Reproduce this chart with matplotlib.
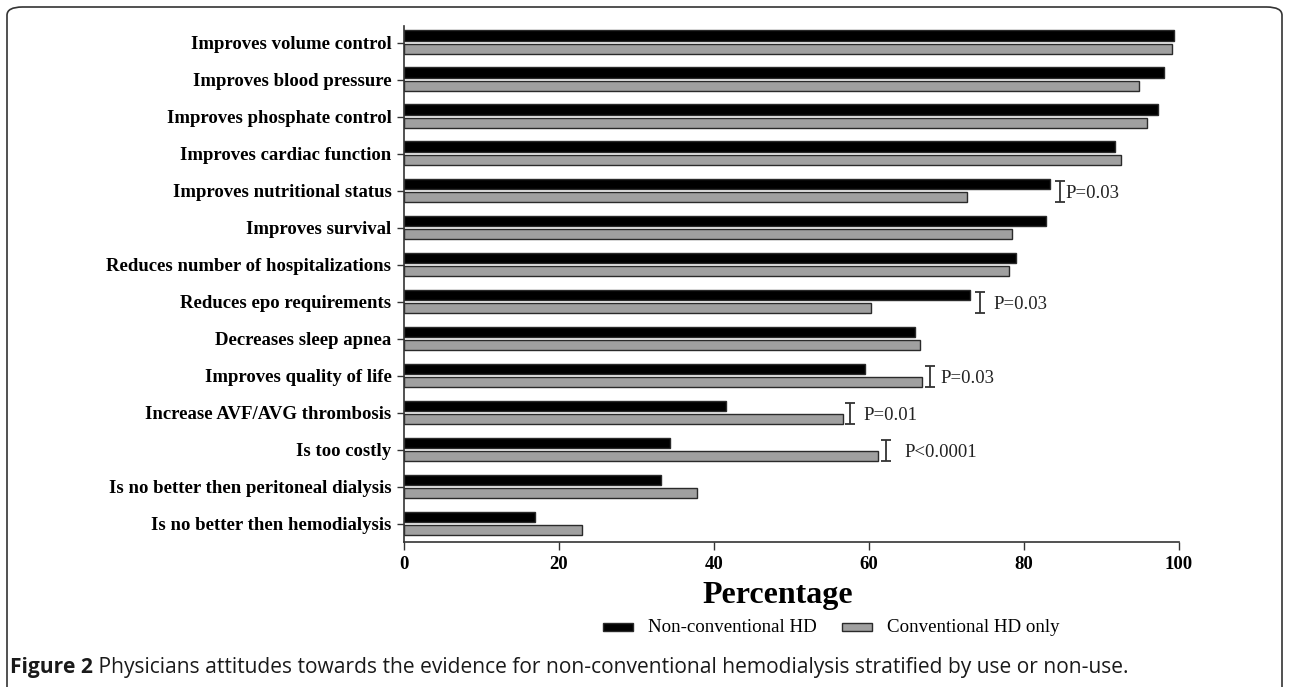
import matplotlib
matplotlib.use("Agg")
import matplotlib.pyplot as plt
import numpy as np
from matplotlib.patches import FancyBboxPatch, Rectangle

categories = [
    "Improves volume control",
    "Improves blood pressure",
    "Improves phosphate control",
    "Improves cardiac function",
    "Improves nutritional status",
    "Improves survival",
    "Reduces number of hospitalizations",
    "Reduces epo requirements",
    "Decreases sleep apnea",
    "Improves quality of life",
    "Increase AVF/AVG thrombosis",
    "Is too costly",
    "Is no better then peritoneal dialysis",
    "Is no better then hemodialysis",
]
non_conventional = [99.4, 98.0, 97.3, 91.7, 83.3, 82.9, 79.0, 73.0, 65.9, 59.5, 41.5, 34.3, 33.1, 16.9]
conventional_only = [99.1, 94.9, 95.9, 92.5, 72.6, 78.4, 78.0, 60.2, 66.6, 66.8, 56.6, 61.2, 37.8, 23.0]
series_names = ["Non-conventional HD", "Conventional HD only"]

# significance annotations: category index, label
sig_rows = [4, 7, 9, 10, 11]
sig_labels = ["P=0.03", "P=0.03", "P=0.03", "P=0.01", "P<0.0001"]
sig_bracket_x = [84.6, 74.3, 67.9, 57.6, 62.2]
sig_text_x = [85.4, 76.1, 69.2, 59.3, 64.6]

xticks = [0, 20, 40, 60, 80, 100]
caption_bold = "Figure 2"
caption_rest = " Physicians attitudes towards the evidence for non-conventional hemodialysis stratified by use or non-use."

W, H = 1289, 687
fig = plt.figure(figsize=(W / 100, H / 100), dpi=100)
serif = ["Liberation Serif", "DejaVu Serif"]

ax_l, ax_r, ax_t, ax_b = 404, 1179, 26, 542
ax = fig.add_axes([ax_l / W, 1 - ax_b / H, (ax_r - ax_l) / W, (ax_b - ax_t) / H])

y = np.arange(len(categories))
bh = 0.28
edge = "#2a2a2a"
ax.barh(y - 0.19, non_conventional, height=bh, color="black", edgecolor=edge, linewidth=1.0)
ax.barh(y + 0.17, conventional_only, height=bh, color="#a0a0a0", edgecolor=edge, linewidth=1.0)

ax.set_xlim(0, 100)
ax.set_ylim(13.49, -0.45)
ax.set_yticks(y)
ax.set_yticklabels(categories, fontfamily=serif, fontweight="bold", fontsize=13.5)
ax.set_xticks(xticks)
ax.set_xticklabels([str(t) for t in xticks], fontfamily=serif, fontweight="bold", fontsize=13.5)
for s in ["top", "right"]:
    ax.spines[s].set_visible(False)
for s in ["left", "bottom"]:
    ax.spines[s].set_color("#333333")
    ax.spines[s].set_linewidth(1.2)
ax.tick_params(axis="y", length=5, width=1.0, color="#333333", pad=4)
ax.tick_params(axis="x", length=6, width=1.0, color="#333333", pad=4)

for r, lab, bx, tx in zip(sig_rows, sig_labels, sig_bracket_x, sig_text_x):
    ax.errorbar([bx], [r + 0.02], yerr=[[0.29], [0.29]], fmt="none", ecolor="#333333",
                elinewidth=1.3, capsize=3.8, capthick=1.3)
    ax.text(tx, r + 0.08, lab, fontfamily=serif, fontsize=13.5, va="center", ha="left", color="#222222")

fig.text(778 / W, 1 - 596 / H, "Percentage", fontfamily=serif, fontweight="bold",
         fontsize=23, ha="center", va="center")

# legend
ftrans = fig.transFigure
for (x0, lab, col) in [(603, series_names[0], "black"), (842, series_names[1], "#a0a0a0")]:
    fig.patches.append(Rectangle((x0 / W, 1 - 631 / H), 30 / W, 8 / H, transform=ftrans,
                                 facecolor=col, edgecolor=edge, linewidth=1.0))
    fig.text((x0 + 45) / W, 1 - 627 / H, lab, fontfamily=serif, fontsize=13.6, va="center", ha="left")

# caption, sized to span the reference width
fig.canvas.draw()
renderer = fig.canvas.get_renderer()
cap_family = ["Open Sans", "DejaVu Sans"]
cap_y = 1 - 668 / H
base = 12.0
t1 = fig.text(10 / W, cap_y, caption_bold, fontfamily=cap_family, fontweight="bold",
              fontsize=base, va="center", ha="left", color="#1a1a1a")
bb = t1.get_window_extent(renderer)
t2 = fig.text(bb.x1 / W, cap_y, caption_rest, fontfamily=cap_family, fontsize=base,
              va="center", ha="left", color="#1a1a1a")
end = t2.get_window_extent(renderer).x1
fs = base * (1123 - 10) / (end - 10)
t1.set_fontsize(fs)
bb = t1.get_window_extent(renderer)
t2.set_fontsize(fs)
t2.set_x(bb.x1 / W)

# rounded border
fig.patches.append(FancyBboxPatch((7 / W, -10 / H), (1282 - 7) / W, (H - 7 + 10) / H,
                                  boxstyle="round,pad=0,rounding_size=0.012", transform=ftrans,
                                  facecolor="none", edgecolor="#333333", linewidth=1.2))

fig.savefig("out.png", dpi=100)
